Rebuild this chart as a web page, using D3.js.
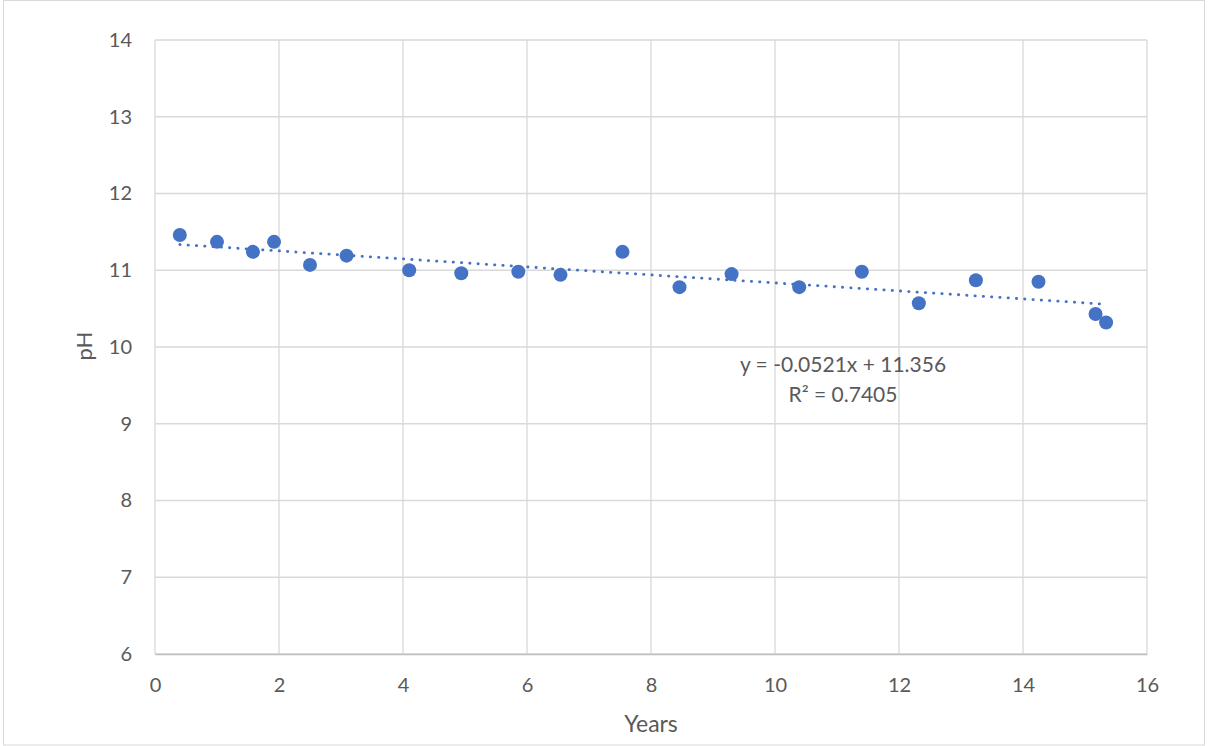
<!DOCTYPE html>
<html>
<head>
<meta charset="utf-8">
<script src="https://cdn.jsdelivr.net/npm/d3@7"></script>
<style>
  html, body { margin: 0; padding: 0; background: #fff; }
  svg { display: block; }
  text { font-family: Lato, "Open Sans", sans-serif; fill: #595959; }
</style>
</head>
<body>
<svg id="chart" width="1208" height="746"></svg>
<script>
const years = [0.40, 1.00, 1.58, 1.92, 2.50, 3.09, 4.10, 4.94, 5.86, 6.54, 7.54, 8.46, 9.30, 10.39, 11.40, 12.32, 13.24, 14.25, 15.17, 15.34];
const phValues = [11.46, 11.37, 11.24, 11.37, 11.07, 11.19, 11.00, 10.96, 10.98, 10.94, 11.24, 10.78, 10.95, 10.78, 10.98, 10.57, 10.87, 10.85, 10.43, 10.32];
const xTicks = [0, 2, 4, 6, 8, 10, 12, 14, 16];
const yTicks = [6, 7, 8, 9, 10, 11, 12, 13, 14];
const trendSlope = -0.0521;
const trendIntercept = 11.356;
const trendLabels = ["y = -0.0521x + 11.356", "R\u00B2 = 0.7405"];
const xTitle = "Years";
const yTitle = "pH";

const svg = d3.select("#chart");
const mLeft = 155, mRight = 1147, mTop = 40, mBottom = 654;

svg.append("rect").attr("x", 3.5).attr("y", 0.5).attr("width", 1201).attr("height", 744.5)
  .attr("fill", "#fff").attr("stroke", "#d9d9d9").attr("stroke-width", 1);

const x = d3.scaleLinear().domain([0, 16]).range([mLeft, mRight]);
const y = d3.scaleLinear().domain([6, 14]).range([mBottom, mTop]);

// gridlines
svg.append("g").selectAll("line").data(xTicks).join("line")
  .attr("x1", d => x(d)).attr("x2", d => x(d)).attr("y1", mTop).attr("y2", mBottom)
  .attr("stroke", "#d9d9d9").attr("stroke-width", 1.3);
svg.append("g").selectAll("line").data(yTicks).join("line")
  .attr("x1", mLeft).attr("x2", mRight).attr("y1", d => y(d)).attr("y2", d => y(d))
  .attr("stroke", "#d9d9d9").attr("stroke-width", 1.3);

// x axis
const xAxis = svg.append("g").attr("transform", `translate(0,${mBottom})`)
  .call(d3.axisBottom(x).tickValues(xTicks).tickSize(0).tickPadding(24).tickFormat(d3.format("d")));
xAxis.select(".domain").attr("stroke", "#bfbfbf").attr("stroke-width", 1.5);
xAxis.selectAll("text").style("font-size", "20px").attr("fill", "#595959").attr("font-family", null);

// y axis
const yAxis = svg.append("g").attr("transform", `translate(${mLeft},0)`)
  .call(d3.axisLeft(y).tickValues(yTicks).tickSize(0).tickPadding(23).tickFormat(d3.format("d")));
yAxis.select(".domain").remove();
yAxis.selectAll("text").style("font-size", "20px").attr("fill", "#595959").attr("font-family", null);

// titles
svg.append("text").attr("x", (mLeft + mRight) / 2).attr("y", 732).attr("text-anchor", "middle")
  .style("font-size", "23px").text(xTitle);
svg.append("text").attr("transform", `translate(92,${(mTop + mBottom) / 2 - 1}) rotate(-90)`)
  .attr("text-anchor", "middle").style("font-size", "22px").text(yTitle);

// trendline
const x0 = d3.min(years), x1 = d3.max(years);
svg.append("line")
  .attr("x1", x(x0)).attr("y1", y(trendSlope * x0 + trendIntercept))
  .attr("x2", x(x1)).attr("y2", y(trendSlope * x1 + trendIntercept))
  .attr("stroke", "#4472C4").attr("stroke-width", 2.8)
  .attr("stroke-linecap", "round").attr("stroke-dasharray", "0.3 8");

// points
svg.append("g").selectAll("circle").data(years).join("circle")
  .attr("cx", d => x(d)).attr("cy", (d, i) => y(phValues[i])).attr("r", 7)
  .attr("fill", "#4472C4");

// equation label
svg.append("g").selectAll("text").data(trendLabels).join("text")
  .attr("x", 843).attr("y", (d, i) => 372 + i * 30).attr("text-anchor", "middle")
  .style("font-size", "21px").text(d => d);
</script>
</body>
</html>
